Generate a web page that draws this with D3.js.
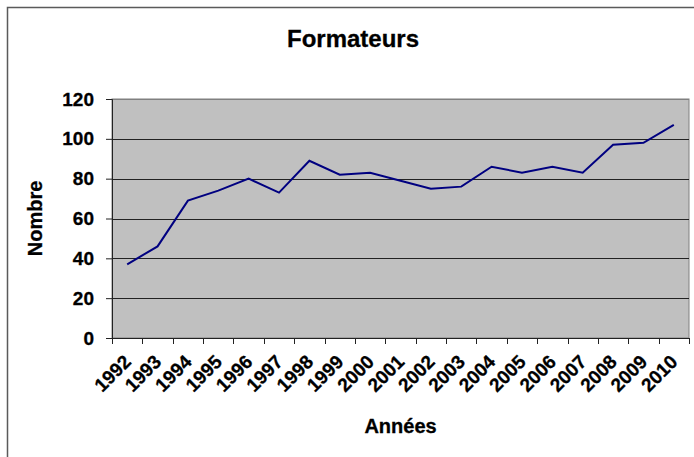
<!DOCTYPE html>
<html>
<head>
<meta charset="utf-8">
<script src="https://cdn.jsdelivr.net/npm/d3@7"></script>
<style>
html,body{margin:0;padding:0;background:#fff;}
svg{display:block;font-family:Arial,"Liberation Sans",sans-serif;}
text{stroke:#000;stroke-width:0.3px;}
</style>
</head>
<body>
<svg id="chart" width="694" height="457"></svg>
<script>
const years = ["1992","1993","1994","1995","1996","1997","1998","1999","2000","2001","2002","2003","2004","2005","2006","2007","2008","2009","2010"];
const formateurs = [37,46,69,74,80,73,89,82,83,79,75,76,86,83,86,83,97,98,107];
const yTicks = [0,20,40,60,80,100,120];
const title = "Formateurs";
const xTitle = "Années";
const yTitle = "Nombre";

const svg = d3.select("#chart");
const m = {left:112, top:99, right:689, bottom:338};

// outer border
svg.append("rect").attr("x",7.5).attr("y",7.5).attr("width",700).attr("height",460)
  .attr("fill","#fff").attr("stroke","#5a5a5a").attr("stroke-width",1.5);

const x = d3.scaleBand().domain(years).range([m.left,m.right]).paddingInner(0).paddingOuter(0);
const y = d3.scaleLinear().domain([0,120]).range([m.bottom,m.top]);

// plot background
svg.append("rect").attr("x",m.left).attr("y",m.top).attr("width",m.right-m.left).attr("height",m.bottom-m.top)
  .attr("fill","#c0c0c0").attr("stroke","#808080").attr("stroke-width",1);

// gridlines
svg.append("g").selectAll("line").data(yTicks.filter(d=>d>0)).join("line")
  .attr("x1",m.left).attr("x2",m.right)
  .attr("y1",d=>Math.round(y(d))+0.5).attr("y2",d=>Math.round(y(d))+0.5)
  .attr("stroke",d=>d===120?"#808080":"#222").attr("stroke-width",1);

// y axis
const yAxis = svg.append("g").attr("transform",`translate(${m.left},0)`)
  .call(d3.axisLeft(y).tickValues(yTicks).tickSize(6).tickPadding(12));
yAxis.select(".domain").attr("stroke","#222");
yAxis.selectAll(".tick line").attr("stroke","#222");
yAxis.selectAll("text").attr("font-size",19).attr("font-weight","bold").attr("fill","#000")
  .attr("font-family","Arial,'Liberation Sans',sans-serif");

// x axis with ticks at category boundaries
const xAxisG = svg.append("g").attr("transform",`translate(0,${m.bottom})`);
xAxisG.append("line").attr("x1",m.left).attr("x2",m.right).attr("y1",0.5).attr("y2",0.5).attr("stroke","#222");
const bounds = years.map(d=>x(d)).concat([m.right]);
xAxisG.selectAll("line.t").data(bounds).join("line").attr("class","t")
  .attr("x1",d=>Math.round(d)+0.5).attr("x2",d=>Math.round(d)+0.5).attr("y1",0).attr("y2",6).attr("stroke","#222");
xAxisG.selectAll("text").data(years).join("text")
  .attr("transform",d=>`translate(${x(d)+x.bandwidth()/2+5},${25}) rotate(-45)`)
  .attr("text-anchor","end")
  .attr("font-size",19).attr("font-weight","bold").attr("fill","#000")
  .text(d=>d);

// line
const line = d3.line().x((d,i)=>x(years[i])+x.bandwidth()/2).y(d=>y(d));
svg.append("path").datum(formateurs).attr("d",line)
  .attr("fill","none").attr("stroke","#000080").attr("stroke-width",2).attr("stroke-linejoin","miter");

// titles
svg.append("text").attr("x",353).attr("y",47).attr("text-anchor","middle")
  .attr("font-size",24).attr("font-weight","bold").text(title);
svg.append("text").attr("x",(m.left+m.right)/2).attr("y",433).attr("text-anchor","middle")
  .attr("font-size",20).attr("font-weight","bold").text(xTitle);
svg.append("text").attr("transform",`translate(42,${(m.top+m.bottom)/2}) rotate(-90)`).attr("text-anchor","middle")
  .attr("font-size",20).attr("font-weight","bold").text(yTitle);
</script>
</body>
</html>
